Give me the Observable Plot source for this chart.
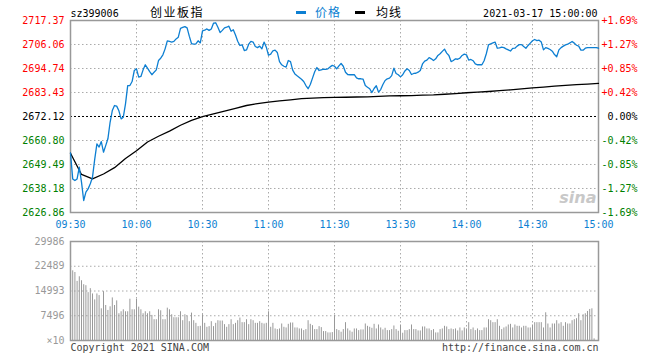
<!DOCTYPE html>
<html><head><meta charset="utf-8">
<script src="https://cdn.jsdelivr.net/npm/d3@7"></script>
<script src="https://cdn.jsdelivr.net/npm/@observablehq/plot@0.6"></script>
<style>
body{margin:0;background:#fff;}
#wrap{position:relative;width:660px;height:360px;overflow:hidden;background:#fff;}
#wrap svg{position:absolute;left:0;}
.sw{position:absolute;height:3px;width:10px;}
.lg{position:absolute;font:12px "Noto Sans CJK SC";letter-spacing:1px;line-height:14px;white-space:nowrap;}
</style></head><body><div id="wrap"></div>
<script>
const code = "sz399006";
const title = "创业板指";
const stamp = "2021-03-17 15:00:00";
const legendNames = ["价格", "均线"];
const prevClose = 2672.12;
const priceTicks = [2717.37, 2706.06, 2694.74, 2683.43, 2672.12, 2660.80, 2649.49, 2638.18, 2626.86];
const pctLabels = ["+1.69%", "+1.27%", "+0.85%", "+0.42%", "0.00%", "-0.42%", "-0.85%", "-1.27%", "-1.69%"];
const timeTicks = [0, 30, 60, 90, 120, 150, 180, 210, 240];
const timeLabels = ["09:30", "10:00", "10:30", "11:00", "11:30", "13:30", "14:00", "14:30", "15:00"];
const volTicks = [29986, 22489, 14993, 7496, 0];
const volLabels = ["29986", "22489", "14993", "7496", "×10"];
const footLeft = "Copyright 2021 SINA.COM";
const footRight = "http://finance.sina.com.cn";

// price per trading minute (0 = 09:30, 120 = 11:30/13:00, 240 = 15:00)
const price = [
2655.0,2642.7,2641.9,2642.7,2648.2,2641.2,2632.5,2636.5,2638.0,2640.4,
2643.5,2651.9,2659.2,2657.7,2660.3,2655.3,2658.4,2661.6,2669.4,2674.9,
2677.3,2677.0,2674.8,2671.0,2671.8,2678.1,2686.7,2686.7,2688.6,2693.8,
2694.6,2690.7,2691.0,2694.1,2696.5,2694.9,2693.3,2691.8,2693.0,2694.1,
2698.5,2699.6,2701.2,2704.0,2707.8,2707.5,2707.2,2707.5,2708.7,2709.5,
2713.7,2714.1,2714.5,2713.9,2710.0,2706.5,2706.2,2706.4,2707.8,2706.8,
2712.5,2712.8,2713.4,2712.7,2713.4,2716.1,2716.3,2714.2,2711.7,2712.7,
2713.9,2714.2,2714.7,2712.3,2713.0,2710.5,2707.6,2705.6,2705.9,2703.2,
2703.5,2706.2,2707.5,2707.2,2705.1,2704.6,2705.3,2704.0,2707.2,2704.8,
2701.0,2701.5,2703.1,2703.4,2702.3,2698.0,2696.5,2695.8,2695.4,2698.5,
2698.0,2694.0,2692.2,2691.3,2690.5,2689.7,2688.6,2686.7,2685.2,2687.2,
2690.2,2693.2,2695.2,2693.8,2694.1,2694.4,2694.3,2694.6,2695.5,2696.2,
2695.8,2694.6,2696.0,2697.1,2695.8,2693.0,2691.9,2691.8,2691.8,2691.8,
2690.3,2689.9,2689.9,2689.7,2686.7,2685.9,2685.2,2683.4,2685.3,2686.6,
2683.6,2684.8,2687.2,2689.1,2689.9,2690.2,2691.4,2694.9,2692.4,2691.8,
2690.8,2691.8,2693.6,2694.6,2693.8,2691.9,2692.4,2692.5,2693.0,2693.8,
2696.9,2698.2,2698.7,2699.9,2699.3,2698.5,2699.3,2700.9,2701.7,2702.8,
2703.9,2702.0,2700.9,2698.0,2698.5,2699.3,2699.1,2699.6,2700.9,2701.5,
2701.2,2698.7,2699.0,2698.4,2696.9,2696.5,2696.5,2696.5,2698.4,2701.7,
2705.9,2706.4,2706.8,2707.2,2704.3,2704.5,2704.8,2704.6,2704.0,2703.5,
2703.0,2704.2,2704.3,2705.3,2706.0,2706.0,2705.1,2704.3,2705.6,2706.7,
2707.8,2708.4,2707.9,2708.1,2707.2,2703.5,2704.6,2704.2,2703.7,2702.9,
2701.3,2700.3,2703.5,2704.6,2705.3,2705.9,2706.2,2706.8,2707.5,2706.7,
2705.7,2705.3,2703.4,2703.4,2704.3,2704.6,2704.6,2704.6,2704.6,2704.6,
2704.3];

// average-price line, read every 5 minutes
const avgMinute = [0,5,10,15,20,25,30,35,40,45,50,55,60,65,70,75,80,85,90,95,100,105,110,115,120,
125,130,135,140,145,150,155,160,165,170,175,180,185,190,195,200,205,210,215,220,225,230,235,240];
const avgPrice = [2654.8,2644.8,2642.7,2645.0,2648.0,2652.3,2656.0,2660.1,2662.8,2665.2,2668.0,2670.3,
2672.1,2673.4,2674.7,2676.0,2677.3,2678.2,2678.9,2679.5,2680.0,2680.5,2680.8,2681.0,2681.1,
2681.2,2681.3,2681.4,2681.6,2681.8,2681.9,2682.0,2682.2,2682.3,2682.6,2682.9,2683.3,
2683.6,2683.9,2684.3,2684.7,2685.1,2685.6,2686.0,2686.4,2686.8,2687.1,2687.4,2687.7];

// volume per minute (x10)
const volume = [
29900,21100,20600,17900,19300,18100,16900,16600,14500,15700,
14100,12300,14100,13600,9600,14800,10600,9100,10200,12900,
10600,12000,8100,8700,9300,8700,8700,12500,9300,9300,
12500,10100,9300,8100,8700,8100,8700,7600,6300,6300,
9300,9000,6300,6300,9800,9300,7800,6900,6900,6900,
8700,6000,7800,7400,5700,8300,6000,5200,4200,4300,
7800,5200,4000,4200,5700,4200,5200,6000,5900,5900,
4800,4000,4800,6300,4800,5200,6000,6800,5400,5400,
6300,4800,6300,6000,5200,5200,5700,5200,5000,5200,
8700,4000,5200,3500,3300,3500,5000,4000,3800,4900,
5300,5300,3800,3800,3500,3500,3000,3300,6000,4900,
4500,3300,3300,4200,3900,2700,2700,2300,2300,2400,
7600,3300,3000,2500,3300,5400,3500,2900,2500,3500,
3500,3000,3200,3200,5000,4300,4000,3700,4900,3500,
4700,3800,3200,3700,3000,3000,3300,4400,3300,2800,
4700,2200,3000,3000,3300,4700,3300,3300,2900,2900,
4100,4100,3500,3500,3000,3300,2300,2300,3300,3500,
4300,4100,3300,3500,3300,3500,2900,3800,2900,3800,
3500,5400,3300,3800,3000,3500,3000,3000,3800,3800,
6300,6000,5400,5400,6300,4300,3300,3800,4100,4700,
4900,3800,4700,4300,4300,3800,4300,4300,3800,3800,
4700,5400,5400,5400,5400,3800,8400,5000,3800,5000,
5000,6000,5000,5400,4300,5400,5000,5000,6000,6300,
6600,8100,6000,7800,8100,8800,9400,9600,500];

const BLUE = "#0d7fd2", RED = "#ff0000", GREEN = "#008000", GRID = "#aaaaaa", FRAME = "#999999";
const font = {fontFamily: "'DejaVu Sans Mono', monospace", fontSize: "10px", background: "white", overflow: "visible"};
const minutes = price.map((_, i) => i);
const volMinutes = volume.map((_, i) => i);
const tickColor = v => v > prevClose + 0.001 ? RED : (v < prevClose - 0.001 ? GREEN : "black");

const wrap = document.getElementById("wrap");

const pricePlot = Plot.plot({
  width: 660, height: 236,
  marginLeft: 70, marginRight: 62, marginTop: 20, marginBottom: 24,
  style: font,
  x: {domain: [0, 240], axis: null},
  y: {domain: [priceTicks[priceTicks.length - 1], priceTicks[0]], axis: null},
  marks: [
    Plot.ruleY(priceTicks.filter(v => v !== prevClose), {stroke: GRID, strokeDasharray: "1.5,2.5"}),
    Plot.ruleX(timeTicks.slice(1, -1), {stroke: GRID, strokeDasharray: "1.5,2.5"}),
    Plot.ruleY([prevClose], {stroke: "black", strokeDasharray: "2,2"}),
    Plot.frame({stroke: FRAME, strokeWidth: 1.5}),
    Plot.text(["sina"], {frameAnchor: "bottom-right", textAnchor: "end", lineAnchor: "middle", dx: -2, dy: -15, text: d => d, fill: "#c8c8c8", fontSize: 16, fontWeight: "bold", fontStyle: "italic", fontFamily: "DejaVu Sans"}),
    Plot.line(avgMinute.map((m, i) => ({m, v: avgPrice[i]})), {x: "m", y: "v", stroke: "black", strokeWidth: 1.3}),
    Plot.line(minutes, {x: d => d, y: d => price[d], stroke: BLUE, strokeWidth: 1.3}),
    Plot.text(priceTicks, {y: d => d, frameAnchor: "left", textAnchor: "end", dx: -6, fill: d => tickColor(d), text: d => d.toFixed(2)}),
    Plot.text(priceTicks, {y: d => d, frameAnchor: "right", textAnchor: "end", dx: 39, fill: d => tickColor(d), text: (d, i) => pctLabels[i]}),
    Plot.text(timeTicks, {x: d => d, frameAnchor: "bottom", lineAnchor: "middle", dy: 12, fill: BLUE, text: (d, i) => timeLabels[i]}),
    Plot.text([code], {frameAnchor: "top-left", textAnchor: "start", lineAnchor: "middle", dy: -7, text: d => d, fill: "black"}),
    Plot.text([stamp], {frameAnchor: "top-right", textAnchor: "end", lineAnchor: "middle", dx: -1, dy: -7, text: d => d, fill: "black"})
  ]
});
pricePlot.style.top = "0px";
wrap.appendChild(pricePlot);

const volPlot = Plot.plot({
  width: 660, height: 125,
  marginLeft: 70, marginRight: 62, marginTop: 6, marginBottom: 20,
  style: font,
  x: {domain: [0, 240], axis: null},
  y: {domain: [0, volTicks[0]], axis: null},
  marks: [
    Plot.ruleY(volTicks.slice(1, -1), {stroke: GRID, strokeDasharray: "1.5,2.5"}),
    Plot.ruleX(timeTicks.slice(1, -1), {stroke: GRID, strokeDasharray: "1.5,2.5"}),
    Plot.ruleX(volMinutes, {x: d => d, y1: 0, y2: d => volume[d], stroke: "#999999", strokeWidth: 1}),
    Plot.frame({stroke: FRAME, strokeWidth: 1.5}),
    Plot.text(volTicks, {y: d => d, frameAnchor: "left", textAnchor: "end", dx: -6, fill: "#999999", text: (d, i) => volLabels[i]}),
    Plot.text([footLeft], {frameAnchor: "bottom-left", textAnchor: "start", lineAnchor: "middle", dy: 7, fill: "#444", text: d => d}),
    Plot.text([footRight], {frameAnchor: "bottom-right", textAnchor: "end", lineAnchor: "middle", dy: 7, fill: "#444", text: d => d})
  ]
});
volPlot.style.top = "235px";
wrap.appendChild(volPlot);

// legend and title
const lg = [[BLUE, 296, 315], ["black", 355, 376]];
lg.forEach(([c, sx, tx], i) => {
  const s = document.createElement("div"); s.className = "sw";
  s.style.cssText = `left:${sx}px;top:11px;background:${c}`; wrap.appendChild(s);
  const t = document.createElement("div"); t.className = "lg";
  t.style.cssText = `left:${tx}px;top:5px;color:${c}`; t.textContent = legendNames[i]; wrap.appendChild(t);
});
const tt = document.createElement("div"); tt.className = "lg";
tt.style.cssText = "left:150px;top:5px;color:black;letter-spacing:1.5px"; tt.textContent = title; wrap.appendChild(tt);
</script></body></html>
